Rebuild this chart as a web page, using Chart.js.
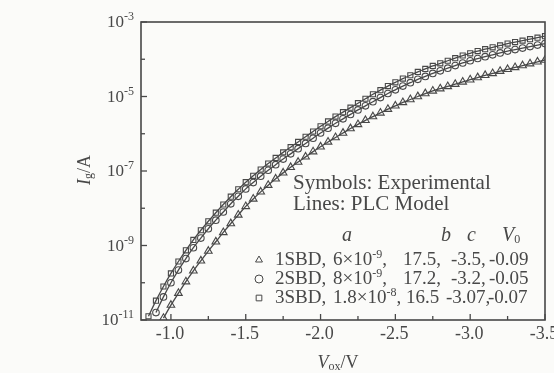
<!DOCTYPE html>
<html>
<head>
<meta charset="utf-8">
<script src="https://cdn.jsdelivr.net/npm/chart.js@4/dist/chart.umd.min.js"></script>
<style>
  html, body { margin: 0; padding: 0; background: #fbfbf9; }
  #wrap { width: 554px; height: 373px; }
</style>
</head>
<body>
<div id="wrap"><canvas id="c" width="554" height="373"></canvas></div>
<script>
// gate voltage samples (V), every 0.05 V
const vox = [
  -0.85, -0.90, -0.95, -1.00, -1.05, -1.10, -1.15, -1.20, -1.25, -1.30,
  -1.35, -1.40, -1.45, -1.50, -1.55, -1.60, -1.65, -1.70, -1.75, -1.80,
  -1.85, -1.90, -1.95, -2.00, -2.05, -2.10, -2.15, -2.20, -2.25, -2.30,
  -2.35, -2.40, -2.45, -2.50, -2.55, -2.60, -2.65, -2.70, -2.75, -2.80,
  -2.85, -2.90, -2.95, -3.00, -3.05, -3.10, -3.15, -3.20, -3.25, -3.30,
  -3.35, -3.40, -3.45, -3.50
];

// log10 of Ig (A) for each device, same order as vox (null = no point)
const sbd3Exp = [
  -10.90, -10.48, -10.10, -9.75, -9.43, -9.13, -8.85, -8.59, -8.35, -8.12,
  -7.90, -7.69, -7.49, -7.30, -7.13, -6.96, -6.80, -6.65, -6.50, -6.36,
  -6.22, -6.08, -5.94, -5.80, -5.67, -5.54, -5.42, -5.30, -5.18, -5.06,
  -4.94, -4.83, -4.72, -4.62, -4.52, -4.43, -4.34, -4.26, -4.18, -4.11,
  -4.04, -3.97, -3.90, -3.84, -3.78, -3.73, -3.68, -3.63, -3.58, -3.54,
  -3.50, -3.46, -3.42, -3.38
];
const sbd2Exp = [
  null, -10.80, -10.38, -10.00, -9.66, -9.35, -9.06, -8.80, -8.55, -8.32,
  -8.10, -7.88, -7.68, -7.48, -7.31, -7.14, -6.98, -6.83, -6.68, -6.54,
  -6.40, -6.26, -6.12, -5.98, -5.85, -5.72, -5.60, -5.48, -5.36, -5.25,
  -5.14, -5.03, -4.92, -4.82, -4.72, -4.63, -4.54, -4.46, -4.38, -4.31,
  -4.24, -4.17, -4.10, -4.04, -3.98, -3.93, -3.88, -3.83, -3.78, -3.74,
  -3.70, -3.66, -3.62, -3.58
];
const sbd1Exp = [
  null, null, -10.95, -10.60, -10.28, -9.97, -9.68, -9.41, -9.15, -8.90,
  -8.65, -8.41, -8.18, -7.95, -7.75, -7.56, -7.38, -7.21, -7.05, -6.90,
  -6.76, -6.62, -6.48, -6.35, -6.22, -6.10, -5.98, -5.86, -5.75, -5.64,
  -5.54, -5.44, -5.34, -5.25, -5.16, -5.08, -5.00, -4.92, -4.85, -4.79,
  -4.73, -4.67, -4.61, -4.55, -4.49, -4.43, -4.38, -4.32, -4.27, -4.22,
  -4.17, -4.12, -4.07, -4.02
];

const xMajorTicks = [-1.0, -1.5, -2.0, -2.5, -3.0, -3.5];
const xMinorTicks = [-0.75, -1.25, -1.75, -2.25, -2.75, -3.25];
const yTickExps = [-11, -10, -9, -8, -7, -6, -5, -4, -3];
const yLabelExps = [-11, -9, -7, -5, -3];

// legend table text
const legendNames = ['1SBD,', '2SBD,', '3SBD,'];
const legendA = [['6×10', '-9'], ['8×10', '-9'], ['1.8×10', '-8']];
const legendB = ['17.5,', '17.2,', '16.5'];
const legendC = ['-3.5,', '-3.2,', '-3.07,'];
const legendV0 = ['-0.09', '-0.05', '-0.07'];
const legendStyles = ['triangle', 'circle', 'rect'];

const INK = '#484848';
const BG = '#fbfbf9';
const SERIF = '"Liberation Serif", "DejaVu Serif", serif';

function toPoints(exps) {
  const pts = [];
  exps.forEach((e, i) => { if (e !== null) pts.push({ x: vox[i], y: Math.pow(10, e) }); });
  return pts;
}

function series(label, exps, style, radius) {
  return {
    label,
    data: toPoints(exps),
    showLine: true,
    borderColor: INK,
    borderWidth: 1.3,
    tension: 0.4,
    pointStyle: style,
    pointRadius: radius,
    pointBorderColor: INK,
    pointBorderWidth: 1.1,
    pointBackgroundColor: 'rgba(255,255,255,0)',
  };
}

// draws a run of text pieces: [text, size, dy, italic]
function rich(ctx, parts, x, y, align) {
  let total = 0;
  parts.forEach(p => { ctx.font = (p[3] ? 'italic ' : '') + p[1] + 'px ' + SERIF; total += ctx.measureText(p[0]).width; });
  let cx = align === 'right' ? x - total : align === 'center' ? x - total / 2 : x;
  parts.forEach(p => {
    ctx.font = (p[3] ? 'italic ' : '') + p[1] + 'px ' + SERIF;
    ctx.textAlign = 'left';
    ctx.fillText(p[0], cx, y + (p[2] || 0));
    cx += ctx.measureText(p[0]).width;
  });
}

function seg(ctx, x1, y1, x2, y2) {
  ctx.beginPath(); ctx.moveTo(x1, y1); ctx.lineTo(x2, y2); ctx.stroke();
}

const framePlugin = {
  id: 'frame',
  afterDraw(chart) {
    const { ctx, chartArea: a, scales: { x, y } } = chart;
    ctx.save();
    ctx.strokeStyle = INK;
    ctx.fillStyle = INK;
    ctx.lineWidth = 1.6;
    ctx.strokeRect(a.left, a.top, a.right - a.left, a.bottom - a.top);

    // inward ticks
    ctx.lineWidth = 1.3;
    xMajorTicks.forEach(v => { const px = x.getPixelForValue(v); seg(ctx, px, a.bottom, px, a.bottom - 6); });
    xMinorTicks.forEach(v => {
      const px = x.getPixelForValue(v);
      if (px > a.left && px < a.right) seg(ctx, px, a.bottom, px, a.bottom - 4);
    });
    yTickExps.forEach(e => {
      const py = y.getPixelForValue(Math.pow(10, e));
      const len = yLabelExps.includes(e) ? 6 : 4;
      seg(ctx, a.left, py, a.left + len, py);
    });

    // tick labels
    ctx.textBaseline = 'middle';
    xMajorTicks.forEach(v => {
      rich(ctx, [[v.toFixed(1), 18]], x.getPixelForValue(v) - 1, a.bottom + 14, 'center');
    });
    yLabelExps.forEach(e => {
      const py = y.getPixelForValue(Math.pow(10, e));
      rich(ctx, [['10', 17, 1], [String(e), 12, -5]], a.left - 7, py, 'right');
    });

    // axis titles
    rich(ctx, [['V', 18, 0, true], ['ox', 12, 4], ['/V', 18, 0]], 338, 363, 'center');
    ctx.save();
    ctx.translate(85, 170);
    ctx.rotate(-Math.PI / 2);
    rich(ctx, [['I', 18, 0, true], ['g', 12, 4], ['/A', 18, 0]], 0, 0, 'center');
    ctx.restore();

    // legend block
    rich(ctx, [['Symbols: Experimental', 21]], 293, 183, 'left');
    rich(ctx, [['Lines: PLC Model', 21]], 293, 204, 'left');
    rich(ctx, [['a', 20, 0, true]], 342, 236, 'left');
    rich(ctx, [['b', 20, 0, true]], 441, 236, 'left');
    rich(ctx, [['c', 20, 0, true]], 467, 236, 'left');
    rich(ctx, [['V', 20, 0, true], ['0', 12, 4]], 502, 236, 'left');

    const rowY = [260, 279, 298];
    legendNames.forEach((name, i) => {
      const ry = rowY[i];
      ctx.save();
      ctx.lineWidth = 1;
      ctx.fillStyle = BG;
      Chart.helpers.drawPoint(ctx, { pointStyle: legendStyles[i], radius: 4, rotation: 0, borderWidth: 1 }, 259, ry);
      ctx.restore();
      rich(ctx, [[name, 19]], 275, ry, 'left');
      rich(ctx, [[legendA[i][0], 19], [legendA[i][1], 12, -5], [',', 19]], 333, ry, 'left');
      rich(ctx, [[legendB[i], 19]], i === 2 ? 406 : 403, ry, 'left');
      rich(ctx, [[legendC[i], 19]], i === 2 ? 446 : 451, ry, 'left');
      rich(ctx, [[legendV0[i], 19]], i === 2 ? 488 : 489, ry, 'left');
    });
    ctx.restore();
  }
};

new Chart(document.getElementById('c'), {
  type: 'scatter',
  data: {
    datasets: [
      series('3SBD', sbd3Exp, 'rect', 3.6),
      series('2SBD', sbd2Exp, 'circle', 3.3),
      series('1SBD', sbd1Exp, 'triangle', 4.4),
    ]
  },
  options: {
    responsive: false,
    animation: false,
    devicePixelRatio: 1,
    layout: { padding: { left: 141, right: 9, top: 22, bottom: 53 } },
    plugins: { legend: { display: false }, tooltip: { enabled: false } },
    scales: {
      x: {
        type: 'linear', min: -3.5, max: -0.8, reverse: true,
        display: false,
      },
      y: {
        type: 'logarithmic', min: 1e-11, max: 1e-3,
        display: false,
      }
    }
  },
  plugins: [framePlugin]
});
</script>
</body>
</html>
